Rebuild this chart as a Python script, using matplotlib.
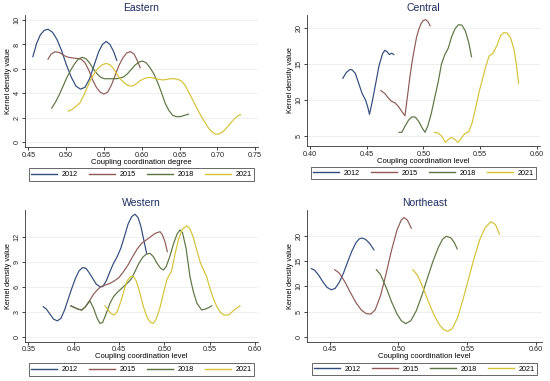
import matplotlib
matplotlib.use("Agg")
import matplotlib.pyplot as plt
from matplotlib.lines import Line2D

plt.rcParams['font.family'] = ['Liberation Sans', 'DejaVu Sans']

years = ['2012', '2015', '2018', '2021']
colors = ['#2f4b7c', '#8f5a55', '#5b7440', '#d6c235']

# ---- Eastern ----
east_x12 = [0.456, 0.461, 0.466, 0.471, 0.476, 0.482, 0.488, 0.494, 0.500, 0.507, 0.513,
            0.519, 0.525, 0.531, 0.537, 0.543, 0.548, 0.553, 0.558, 0.563, 0.567]
east_y12 = [7.0, 8.1, 8.8, 9.15, 9.25, 9.0, 8.4, 7.5, 6.4, 5.3, 4.6,
            4.35, 4.5, 5.2, 6.3, 7.4, 8.0, 8.25, 8.0, 7.4, 6.7]
east_x15 = [0.476, 0.480, 0.485, 0.491, 0.497, 0.503, 0.509, 0.515, 0.520, 0.525, 0.530,
            0.535, 0.540, 0.545, 0.550, 0.555, 0.560, 0.565, 0.570, 0.575, 0.580,
            0.585, 0.590, 0.594, 0.598]
east_y15 = [6.8, 7.2, 7.4, 7.35, 7.1, 6.95, 6.9, 6.85, 6.8, 6.5, 5.9,
            5.1, 4.5, 4.1, 3.95, 4.1, 4.7, 5.5, 6.3, 6.9, 7.3,
            7.42, 7.2, 6.7, 6.1]
east_x18 = [0.481, 0.486, 0.491, 0.496, 0.501, 0.506, 0.511, 0.516, 0.521, 0.526, 0.531,
            0.536, 0.541, 0.546, 0.551, 0.556, 0.561, 0.566, 0.571, 0.576, 0.581,
            0.586, 0.591, 0.596, 0.601, 0.606, 0.611, 0.616, 0.621, 0.626, 0.631,
            0.636, 0.641, 0.646, 0.651, 0.656, 0.662]
east_y18 = [2.8, 3.3, 3.9, 4.6, 5.3, 5.9, 6.4, 6.8, 6.95, 6.85, 6.5,
            6.0, 5.6, 5.3, 5.2, 5.2, 5.2, 5.2, 5.25, 5.35, 5.6,
            5.95, 6.3, 6.55, 6.65, 6.5, 6.1, 5.6, 4.9, 4.1, 3.2,
            2.6, 2.2, 2.1, 2.1, 2.2, 2.3]
east_x21 = [0.503, 0.508, 0.513, 0.518, 0.523, 0.528, 0.533, 0.538, 0.543, 0.548, 0.553,
            0.558, 0.563, 0.568, 0.573, 0.578, 0.583, 0.588, 0.593, 0.598, 0.603,
            0.608, 0.613, 0.618, 0.623, 0.628, 0.633, 0.638, 0.643, 0.648, 0.653,
            0.658, 0.663, 0.668, 0.673, 0.678, 0.683, 0.688, 0.693, 0.698, 0.703,
            0.708, 0.713, 0.718, 0.723, 0.728, 0.731]
east_y21 = [2.55, 2.7, 2.95, 3.2, 3.8, 4.5, 5.2, 5.7, 6.1, 6.35, 6.45,
            6.35, 6.0, 5.5, 5.1, 4.8, 4.62, 4.6, 4.8, 5.05, 5.2,
            5.3, 5.3, 5.2, 5.15, 5.1, 5.15, 5.2, 5.2, 5.15, 5.0,
            4.6, 4.0, 3.4, 2.8, 2.2, 1.7, 1.2, 0.85, 0.65, 0.7,
            0.9, 1.25, 1.6, 1.95, 2.2, 2.25]

# ---- Central ----
cen_x12 = [0.429, 0.432, 0.435, 0.437, 0.440, 0.443, 0.446, 0.449, 0.451, 0.4525,
           0.455, 0.458, 0.461, 0.464, 0.466, 0.468, 0.470, 0.472, 0.474]
cen_y12 = [13.0, 13.8, 14.2, 14.2, 13.7, 12.3, 10.9, 10.0, 9.0, 8.0,
           9.8, 12.3, 14.8, 16.4, 16.9, 16.7, 16.3, 16.5, 16.3]
cen_x15 = [0.4625, 0.466, 0.469, 0.472, 0.475, 0.478, 0.481, 0.4838, 0.486, 0.488,
           0.490, 0.492, 0.494, 0.496, 0.498, 0.500, 0.502, 0.504, 0.506]
cen_y15 = [11.3, 10.9, 10.3, 9.8, 9.6, 9.1, 8.4, 7.8, 10.5, 13.0,
           15.2, 17.0, 18.7, 19.8, 20.6, 21.05, 21.15, 20.9, 20.3]
cen_x18 = [0.4785, 0.481, 0.484, 0.487, 0.490, 0.493, 0.496, 0.499, 0.5015, 0.504,
           0.507, 0.510, 0.513, 0.516, 0.519, 0.522, 0.525, 0.528, 0.531, 0.534,
           0.537, 0.540, 0.5425]
cen_y18 = [5.5, 5.5, 6.4, 7.2, 7.65, 7.6, 7.0, 6.1, 5.5, 6.4,
           8.1, 10.3, 12.4, 15.0, 16.3, 17.2, 18.8, 19.9, 20.45, 20.4,
           19.6, 18.0, 16.0]
cen_x21 = [0.5097, 0.513, 0.516, 0.5195, 0.522, 0.525, 0.528, 0.5305, 0.533, 0.5365,
           0.540, 0.543, 0.546, 0.549, 0.552, 0.555, 0.558, 0.5615, 0.565, 0.568,
           0.571, 0.574, 0.577, 0.580, 0.582, 0.584]
cen_y21 = [5.5, 5.4, 5.0, 4.1, 4.5, 4.8, 4.5, 4.1, 4.6, 5.3,
           5.6, 6.8, 8.8, 11.0, 12.8, 14.6, 16.1, 16.5, 17.6, 18.9,
           19.35, 19.3, 18.6, 17.0, 15.0, 12.3]

# ---- Western ----
west_x12 = [0.3665, 0.370, 0.374, 0.378, 0.382, 0.386, 0.390, 0.394, 0.398, 0.402,
            0.406, 0.410, 0.4136, 0.417, 0.421, 0.425, 0.429, 0.432, 0.436, 0.440,
            0.444, 0.448, 0.452, 0.456, 0.460, 0.464, 0.4676, 0.471, 0.474, 0.477, 0.4805]
west_y12 = [3.6, 3.3, 2.7, 2.1, 1.9, 2.2, 3.2, 4.5, 5.8, 7.0,
            7.9, 8.3, 8.2, 7.7, 7.0, 6.3, 6.0, 6.0, 6.7, 7.8,
            8.8, 9.6, 10.6, 12.0, 13.5, 14.4, 14.7, 14.3, 13.3, 11.8, 10.0]
west_x15 = [0.397, 0.401, 0.405, 0.409, 0.413, 0.418, 0.422, 0.426, 0.430, 0.435,
            0.440, 0.445, 0.450, 0.455, 0.460, 0.465, 0.470, 0.475, 0.480, 0.485,
            0.490, 0.4953, 0.498, 0.501, 0.5033]
west_y15 = [3.7, 3.5, 3.3, 3.2, 3.6, 4.4, 5.1, 5.6, 6.0, 6.2,
            6.4, 6.7, 7.1, 7.8, 8.6, 9.6, 10.5, 11.2, 11.6, 12.0,
            12.4, 12.6, 12.2, 11.3, 10.2]
west_x18 = [0.397, 0.401, 0.405, 0.409, 0.413, 0.418, 0.422, 0.426, 0.429, 0.432,
            0.436, 0.440, 0.444, 0.448, 0.452, 0.456, 0.460, 0.464, 0.468, 0.472,
            0.476, 0.480, 0.4842, 0.488, 0.492, 0.496, 0.4989, 0.502, 0.506, 0.510,
            0.514, 0.5173, 0.520, 0.524, 0.5283, 0.532, 0.536, 0.5412, 0.545, 0.549, 0.5523]
west_y18 = [3.7, 3.5, 3.3, 3.2, 3.6, 4.3, 3.4, 2.2, 1.6, 1.7,
            2.8, 4.0, 4.8, 5.3, 5.7, 6.1, 6.5, 7.0, 7.9, 8.8,
            9.5, 9.9, 10.0, 9.6, 8.8, 8.2, 8.0, 8.4, 9.6, 11.1,
            12.3, 12.8, 12.5, 10.6, 7.2, 5.4, 4.0, 3.2, 3.3, 3.5, 3.7]
west_x21 = [0.4346, 0.438, 0.441, 0.4445, 0.448, 0.452, 0.456, 0.459, 0.4625, 0.4658,
            0.469, 0.473, 0.477, 0.481, 0.485, 0.4879, 0.491, 0.495, 0.499, 0.503,
            0.508, 0.512, 0.516, 0.520, 0.5247, 0.528, 0.532, 0.536, 0.540, 0.5467,
            0.550, 0.554, 0.558, 0.562, 0.566, 0.5706, 0.574, 0.578, 0.5835]
west_y21 = [3.7, 3.2, 2.8, 2.6, 3.0, 4.2, 5.7, 6.7, 7.2, 7.25,
            6.7, 5.3, 3.6, 2.3, 1.7, 1.6, 2.1, 3.4, 5.2, 6.9,
            7.9, 10.0, 11.8, 12.9, 13.3, 13.0, 11.9, 10.3, 8.8, 7.2,
            5.9, 4.6, 3.6, 2.9, 2.6, 2.6, 2.9, 3.3, 3.7]

# ---- Northeast ----
ne_x12 = [0.4367, 0.439, 0.442, 0.445, 0.448, 0.4512, 0.454, 0.457, 0.460, 0.463,
          0.466, 0.469, 0.4715, 0.4735, 0.476, 0.479, 0.4822]
ne_y12 = [13.5, 13.2, 12.2, 10.9, 9.8, 9.3, 9.6, 10.8, 12.6, 14.8,
          16.9, 18.6, 19.4, 19.55, 19.3, 18.5, 17.2]
ne_x15 = [0.4536, 0.457, 0.461, 0.465, 0.469, 0.473, 0.4765, 0.4798, 0.483, 0.487,
          0.491, 0.495, 0.499, 0.502, 0.504, 0.5065, 0.5093]
ne_y15 = [13.3, 12.6, 10.9, 8.8, 6.8, 5.3, 4.6, 4.5, 5.3, 8.2,
          12.5, 17.2, 21.2, 23.1, 23.6, 23.1, 21.5]
ne_x18 = [0.4839, 0.487, 0.491, 0.495, 0.499, 0.502, 0.5052, 0.509, 0.513, 0.517,
          0.521, 0.525, 0.529, 0.532, 0.5347, 0.538, 0.5405, 0.5427]
ne_y18 = [13.3, 12.3, 9.8, 6.9, 4.5, 3.2, 2.6, 3.2, 5.2, 8.2,
          11.6, 14.9, 17.7, 19.3, 19.9, 19.6, 18.7, 17.4]
ne_x21 = [0.5105, 0.514, 0.518, 0.522, 0.526, 0.530, 0.533, 0.5359, 0.539, 0.543,
          0.547, 0.551, 0.555, 0.559, 0.563, 0.5673, 0.5705, 0.5734]
ne_y21 = [13.3, 12.1, 9.6, 6.8, 4.2, 2.3, 1.4, 1.1, 1.6, 3.8,
          7.5, 11.6, 15.6, 19.2, 21.6, 22.8, 22.2, 20.3]

W, H = 550, 381
fig = plt.figure(figsize=(5.5, 3.81), dpi=100)


def px_axes(l, t, r, b):
    return fig.add_axes([l / W, 1 - b / H, (r - l) / W, (b - t) / H])


def panel(box, title, series, xlim, ylim, xticks, yticks, xlabel, legend_y, title_y, xlab_y):
    ax = px_axes(*box)
    for (xs, ys), c in zip(series, colors):
        ax.plot(xs, ys, color=c, lw=0.85)
    ax.set_xlim(*xlim)
    ax.set_ylim(*ylim)
    ax.set_xticks(xticks)
    ax.set_xticklabels([f'{v:.2f}' for v in xticks])
    ax.set_yticks(yticks)
    ax.set_yticklabels([str(v) for v in yticks], rotation=90, va='center')
    for v in yticks:
        ax.axhline(v, color='#ececec', lw=0.6, zorder=0)
    for s in ['top', 'right']:
        ax.spines[s].set_visible(False)
    for s in ['left', 'bottom']:
        ax.spines[s].set_linewidth(0.6)
        ax.spines[s].set_color('#333333')
    ax.tick_params(length=2.5, width=0.6, pad=0.8, labelsize=5.2, colors='#222222')
    ax.set_ylabel('Kernel density value', fontsize=5.3, labelpad=1)
    cx = (box[0] + box[2]) / 2 / W
    fig.text(cx, 1 - xlab_y / H, xlabel, ha='center', va='center', fontsize=5.5)
    fig.text(cx, 1 - title_y / H, title, ha='center', va='center', fontsize=7.5, color='#1c2c5e')
    handles = [Line2D([0], [0], color=c, lw=1.0) for c in colors]
    lg = fig.legend(handles, years, loc='center', bbox_to_anchor=(cx, 1 - legend_y / H),
                    ncol=4, fontsize=5.2, frameon=True, fancybox=False, handlelength=3.6,
                    handletextpad=0.6, columnspacing=1.6, borderpad=0.35)
    lg.get_frame().set_edgecolor('#222222')
    lg.get_frame().set_linewidth(0.6)
    return ax


panel((25, 15, 258, 147), 'Eastern',
      [(east_x12, east_y12), (east_x15, east_y15), (east_x18, east_y18), (east_x21, east_y21)],
      (0.4456, 0.7538), (-0.38, 10.41), [0.45, 0.50, 0.55, 0.60, 0.65, 0.70, 0.75],
      [0, 2, 4, 6, 8, 10], 'Coupling coordination degree', 174.5, 8, 162)

panel((307, 15, 540, 146), 'Central',
      [(cen_x12, cen_y12), (cen_x15, cen_y15), (cen_x18, cen_y18), (cen_x21, cen_y21)],
      (0.3974, 0.6029), (3.6, 21.8), [0.40, 0.45, 0.50, 0.55, 0.60],
      [5, 10, 15, 20], 'Coupling coordination level', 173, 8, 161.5)

panel((25, 210, 258, 341.7), 'Western',
      [(west_x12, west_y12), (west_x15, west_y15), (west_x18, west_y18), (west_x21, west_y21)],
      (0.3464, 0.6033), (-0.6, 15.2), [0.35, 0.40, 0.45, 0.50, 0.55, 0.60],
      [0, 3, 6, 9, 12], 'Coupling coordination level', 369.5, 203, 357)

panel((307, 210, 541.7, 341.7), 'Northeast',
      [(ne_x12, ne_y12), (ne_x15, ne_y15), (ne_x18, ne_y18), (ne_x21, ne_y21)],
      (0.4335, 0.6041), (-0.96, 25.1), [0.45, 0.50, 0.55, 0.60],
      [0, 5, 10, 15, 20], 'Coupling coordination level', 369, 203, 357)

fig.savefig('out.png', dpi=100, facecolor='white')
